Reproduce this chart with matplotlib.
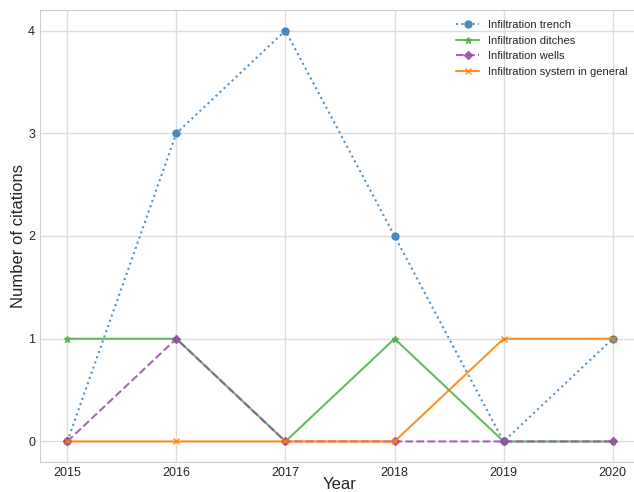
import matplotlib
matplotlib.use("Agg")
import matplotlib.pyplot as plt
import seaborn as sns

sns.set_style("whitegrid")
plt.rcParams['font.family'] = ['Liberation Sans', 'DejaVu Sans']

years = [2015, 2016, 2017, 2018, 2019, 2020]
trench = [0, 3, 4, 2, 0, 1]
ditches = [1, 1, 0, 1, 0, 0]
wells = [0, 1, 0, 0, 0, 0]
general = [0, 0, 0, 0, 1, 1]

fig = plt.figure(figsize=(6.34, 4.92), dpi=100)
ax = fig.add_axes([40/634, 30/492, 600/634, 452/492])

kw = dict(linewidth=1.5, alpha=0.85)
ax.plot(years, trench, color='#377eb8', linestyle=':', marker='o', markersize=5, label='Infiltration trench', **kw)
ax.plot(years, ditches, color='#4daf4a', linestyle='-', marker='*', markersize=4.5, label='Infiltration ditches', **kw)
ax.plot(years, wells, color='#984ea3', linestyle='--', marker='D', markersize=4, label='Infiltration wells', **kw)
ax.plot(years, general, color='#ff7f00', linestyle='-', marker='x', markersize=4.5, label='Infiltration system in general', **kw)

ax.set_xlim(2014.75, 2020.25)
ax.set_ylim(-0.2, 4.2)
ax.set_xticks(years)
ax.set_yticks([0, 1, 2, 3, 4])
ax.tick_params(labelsize=9, colors='#262626', pad=0)
ax.grid(color='#dddddd', linewidth=1)
ax.set_xlabel('Year', fontsize=12)
ax.set_ylabel('Number of citations', fontsize=12)
ax.xaxis.set_label_coords(0.5, -0.033)
ax.yaxis.set_label_coords(-0.023, 0.5)
for s in ax.spines.values():
    s.set_color('#cccccc')
ax.legend(loc='upper right', fontsize=8, frameon=False, bbox_to_anchor=(0.995, 1.0))

fig.savefig('out.png', dpi=100)
